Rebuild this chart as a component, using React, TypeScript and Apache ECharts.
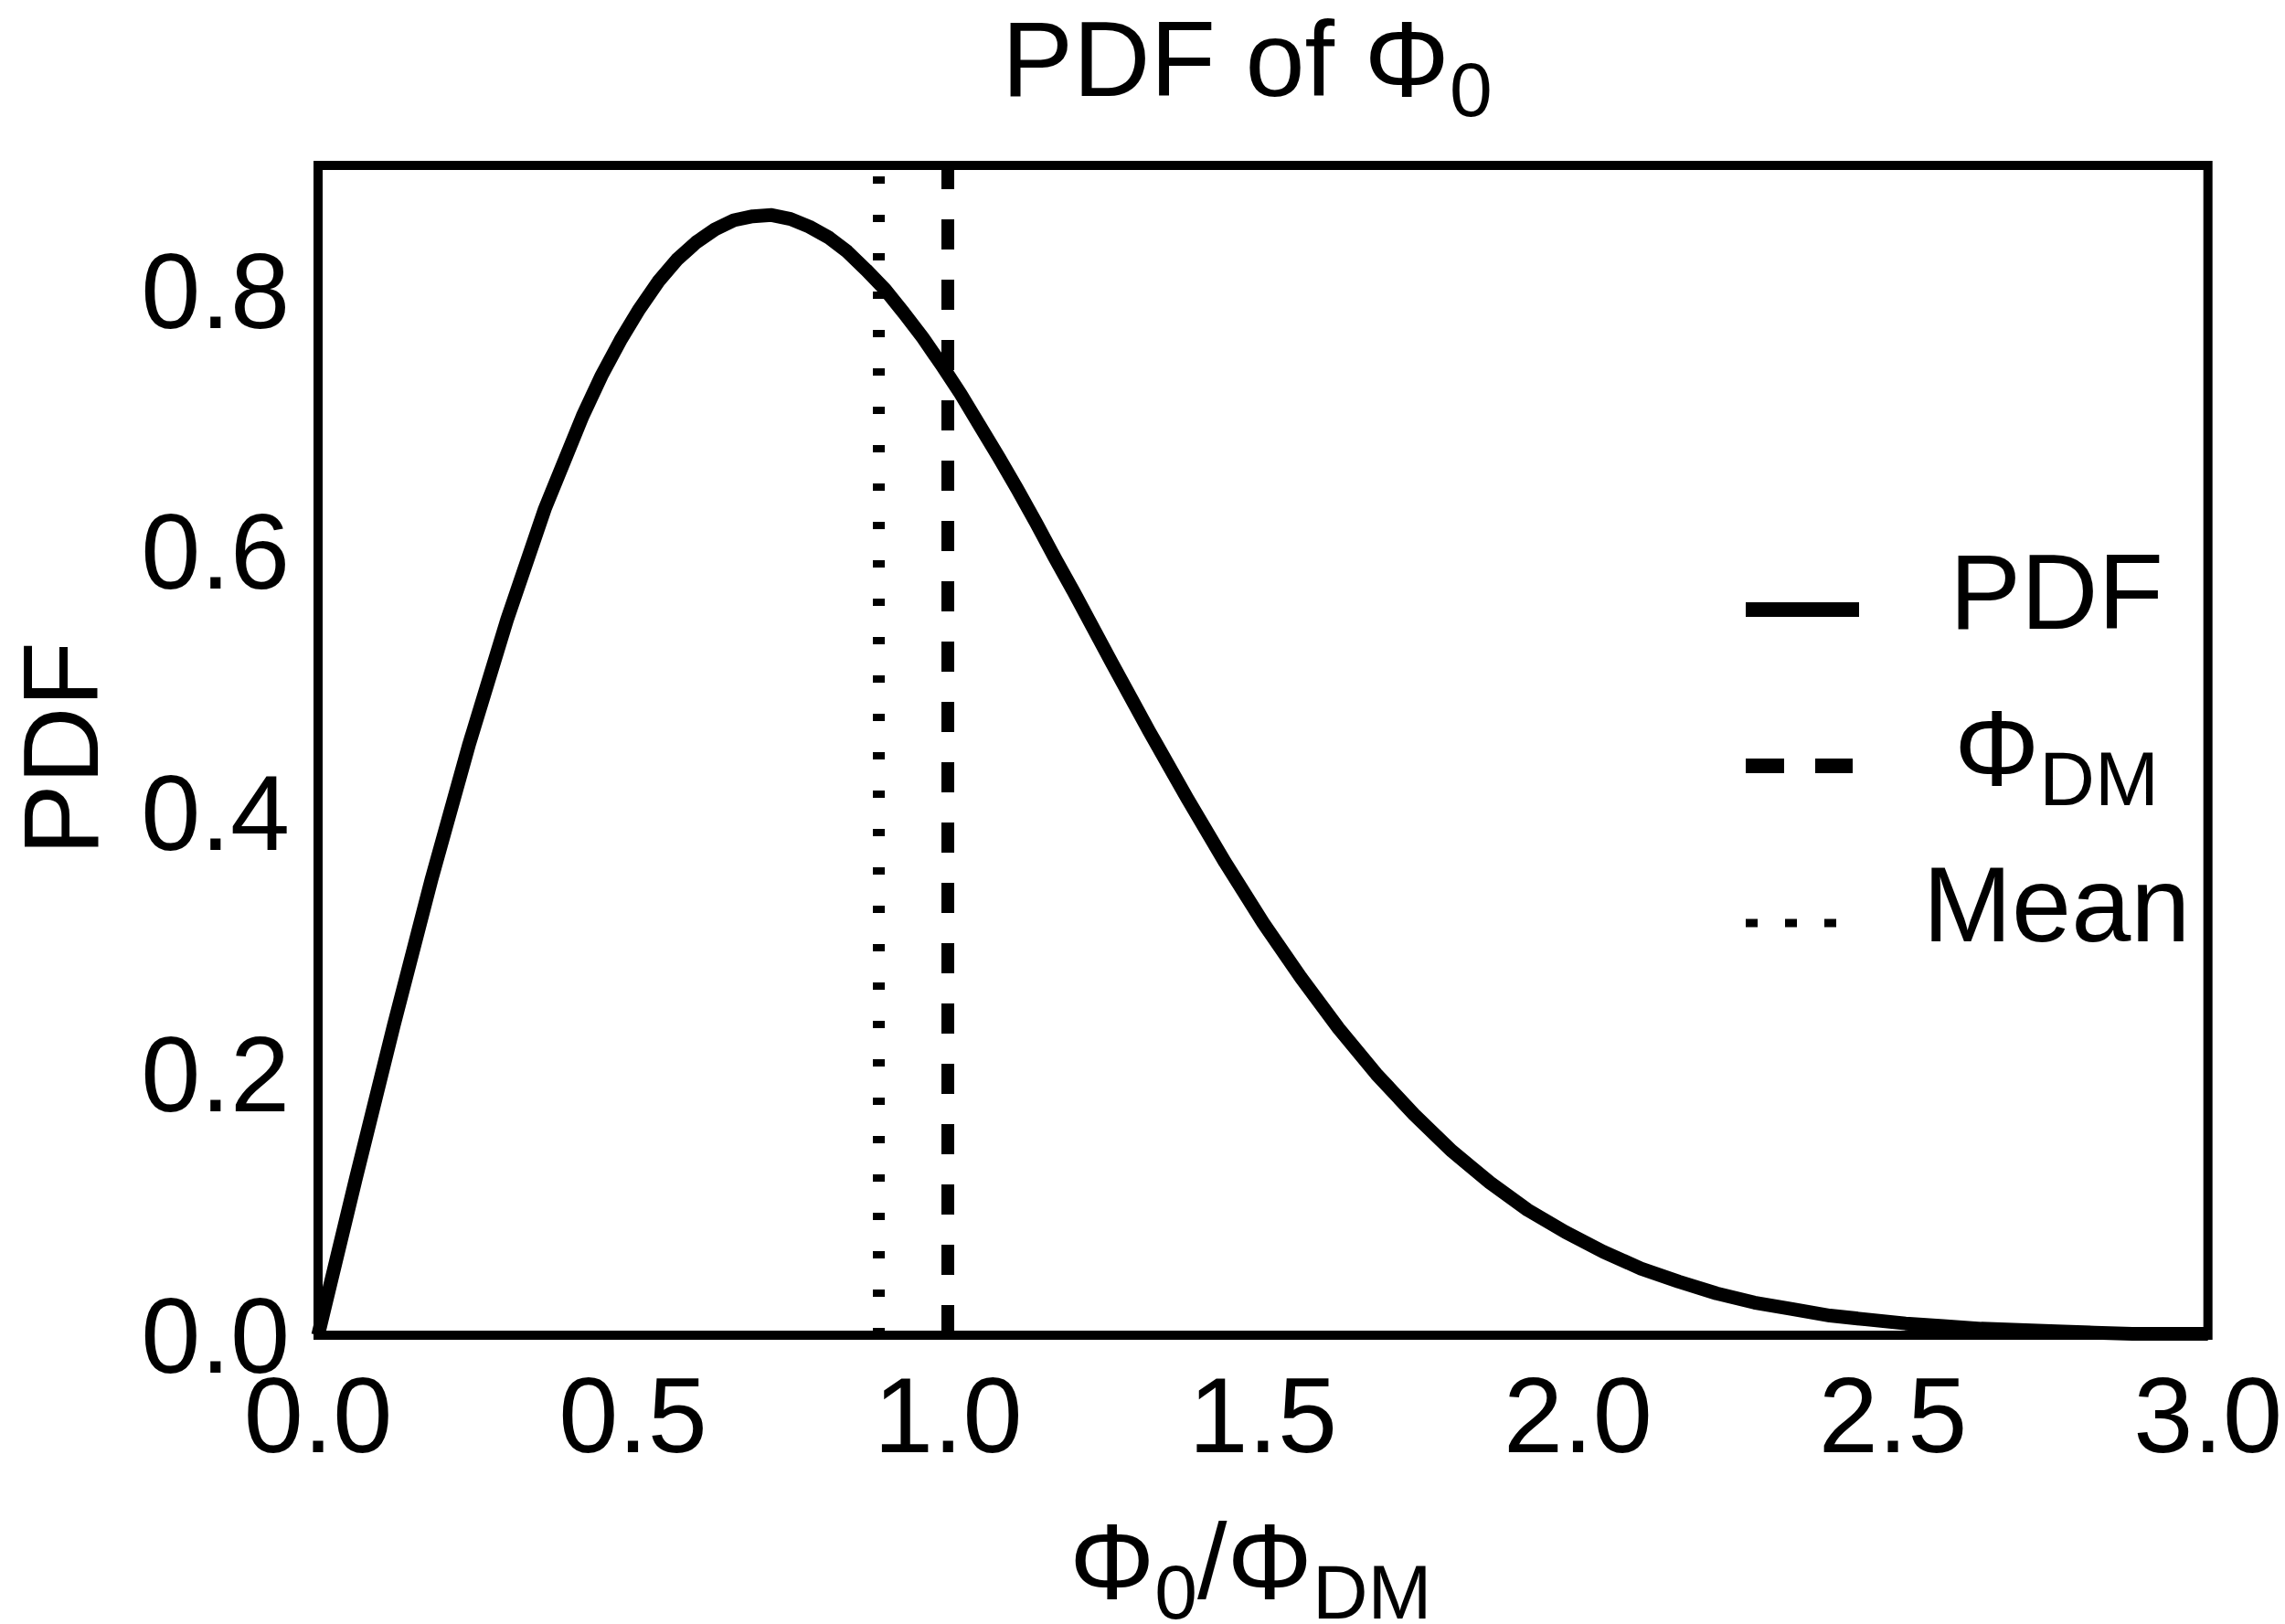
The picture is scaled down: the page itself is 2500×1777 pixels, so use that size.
import React, { useEffect, useRef } from "react";
import * as echarts from "echarts";

// ---- data ----
const xValues = [
  0, 0.06, 0.12, 0.18, 0.24, 0.3, 0.36, 0.42, 0.45, 0.48, 0.51, 0.54, 0.57, 0.6, 0.63, 0.66,
  0.69, 0.72, 0.75, 0.78, 0.81, 0.84, 0.87, 0.9, 0.93, 0.96, 0.99, 1.02, 1.05, 1.08, 1.11, 1.14,
  1.17, 1.2, 1.26, 1.32, 1.38, 1.44, 1.5, 1.56, 1.62, 1.68, 1.74, 1.8, 1.86, 1.92, 1.98, 2.04,
  2.1, 2.16, 2.22, 2.28, 2.34, 2.4, 2.46, 2.52, 2.58, 2.64, 2.7, 2.76, 2.82, 2.88, 2.94, 3.0,
];
const pdfValues = [
  0, 0.12, 0.237, 0.349, 0.453, 0.548, 0.633, 0.704, 0.735, 0.762, 0.786, 0.807, 0.824, 0.837,
  0.847, 0.854, 0.857, 0.858, 0.855, 0.849, 0.841, 0.83, 0.816, 0.801, 0.783, 0.764, 0.743,
  0.721, 0.697, 0.673, 0.648, 0.622, 0.595, 0.569, 0.515, 0.462, 0.411, 0.362, 0.316, 0.274,
  0.235, 0.2, 0.169, 0.141, 0.117, 0.096, 0.079, 0.064, 0.051, 0.041, 0.032, 0.025, 0.02,
  0.015, 0.012, 0.009, 0.007, 0.005, 0.004, 0.003, 0.002, 0.001, 0.001, 0.001,
];
const phiDMValue = 1.0;
const meanValue = 0.886;

const xTickValues = [0, 0.5, 1, 1.5, 2, 2.5, 3];
const xTickLabels = ["0.0", "0.5", "1.0", "1.5", "2.0", "2.5", "3.0"];
const yTickValues = [0, 0.2, 0.4, 0.6, 0.8];
const yTickLabels = ["0.0", "0.2", "0.4", "0.6", "0.8"];
const xMin = 0;
const xMax = 3;
const yMin = 0;
const yMax = 0.896;

const titleMain = "PDF of Φ";
const titleSub = "0";
const legendNames = ["PDF", "Φ", "Mean"];
const legendSubs = ["", "DM", ""];

// ---- style ----
const FONT = "'Liberation Sans', Arial, sans-serif";
const FS = 117;
const SUB_FS = 84;

function labelFor(values: number[], labels: string[], v: number) {
  for (let i = 0; i < values.length; i++) {
    if (Math.abs(values[i] - v) < 1e-6) return labels[i];
  }
  return "";
}

const richStyles = {
  m: { fontSize: FS, fontFamily: FONT, lineHeight: 120, verticalAlign: "middle", fill: "#000" },
  s: {
    fontSize: SUB_FS,
    fontFamily: FONT,
    lineHeight: 53,
    height: 53,
    verticalAlign: "bottom",
    fill: "#000",
  },
};

export default function App() {
  const ref = useRef<HTMLDivElement>(null);

  useEffect(() => {
    if (!ref.current) return;
    const chart = echarts.init(ref.current, undefined, { renderer: "svg" });

    const seriesData = xValues.map((x, i) => [x, pdfValues[i]]);

    const legendRowsY = [667, 838, 1010];
    const legendTextY = [647.5, 818.5, 989.5];

    const legendGraphics: any[] = [];
    legendGraphics.push({
      type: "line",
      shape: { x1: 1910, y1: legendRowsY[0], x2: 2034, y2: legendRowsY[0] },
      style: { stroke: "#000", lineWidth: 16 },
    });
    legendGraphics.push({
      type: "line",
      shape: { x1: 1910, y1: legendRowsY[1], x2: 2027, y2: legendRowsY[1] },
      style: { stroke: "#000", lineWidth: 16, lineDash: [42, 34] },
    });
    legendGraphics.push({
      type: "line",
      shape: { x1: 1910, y1: legendRowsY[2], x2: 2010, y2: legendRowsY[2] },
      style: { stroke: "#000", lineWidth: 9, lineDash: [13, 30] },
    });
    legendNames.forEach((name, i) => {
      const text = legendSubs[i] ? `{m|${name}}{s|${legendSubs[i]}}` : `{m|${name}}`;
      legendGraphics.push({
        type: "text",
        style: {
          text,
          rich: richStyles,
          x: 2250,
          y: legendTextY[i],
          align: "center",
          verticalAlign: "middle",
          fill: "#000",
        },
      });
    });

    chart.setOption({
      animation: false,
      backgroundColor: "#fff",
      grid: {
        left: 348,
        right: 82,
        top: 181,
        bottom: 316,
        show: true,
        borderColor: "#000",
        borderWidth: 10,
        backgroundColor: "transparent",
        containLabel: false,
      },
      xAxis: {
        type: "value",
        min: xMin,
        max: xMax,
        interval: 0.5,
        axisLine: { show: false },
        axisTick: { show: false },
        splitLine: { show: false },
        axisLabel: {
          margin: 45.5,
          fontSize: FS,
          lineHeight: 84,
          fontFamily: FONT,
          color: "#000",
          formatter: (v: number) => labelFor(xTickValues, xTickLabels, v),
        },
      },
      yAxis: {
        type: "value",
        min: yMin,
        max: yMax,
        interval: 0.2,
        axisLine: { show: false },
        axisTick: { show: false },
        splitLine: { show: false },
        axisLabel: {
          margin: 31,
          fontSize: FS,
          lineHeight: 84,
          fontFamily: FONT,
          color: "#000",
          showMaxLabel: false,
          formatter: (v: number) => labelFor(yTickValues, yTickLabels, v),
        },
      },
      series: [
        {
          name: "PDF",
          type: "line",
          data: seriesData,
          showSymbol: false,
          symbol: "none",
          smooth: false,
          clip: true,
          lineStyle: { color: "#000", width: 15, join: "round" },
          markLine: {
            silent: true,
            symbol: ["none", "none"],
            label: { show: false },
            animation: false,
            data: [
              {
                xAxis: phiDMValue,
                lineStyle: { color: "#000", width: 14, type: [33, 33] },
              },
              {
                xAxis: meanValue,
                lineStyle: { color: "#000", width: 13, type: [8, 34] },
              },
            ],
          },
        },
      ],
      graphic: [
        {
          type: "text",
          style: {
            text: `{m|${titleMain}}{s|${titleSub}}`,
            rich: richStyles,
            x: 1096,
            y: 64.5,
            align: "left",
            verticalAlign: "middle",
            fill: "#000",
          },
        },
        {
          type: "text",
          style: {
            text: "{m|Φ}{s|0}{m|/Φ}{s|DM}",
            rich: richStyles,
            x: 1170,
            y: 1708.5,
            align: "left",
            verticalAlign: "middle",
            fill: "#000",
          },
        },
        {
          type: "text",
          x: 66,
          y: 819,
          rotation: Math.PI / 2,
          style: {
            text: "PDF",
            x: 0,
            y: 0,
            fontSize: FS,
            fontFamily: FONT,
            lineHeight: 100,
            align: "center",
            verticalAlign: "middle",
            fill: "#000",
          },
        },
        ...legendGraphics,
      ],
    });

    return () => {
      chart.dispose();
    };
  }, []);

  return (
    <div
      ref={ref}
      style={{ position: "fixed", left: 0, top: 0, width: 2500, height: 1777, background: "#fff" }}
    />
  );
}
